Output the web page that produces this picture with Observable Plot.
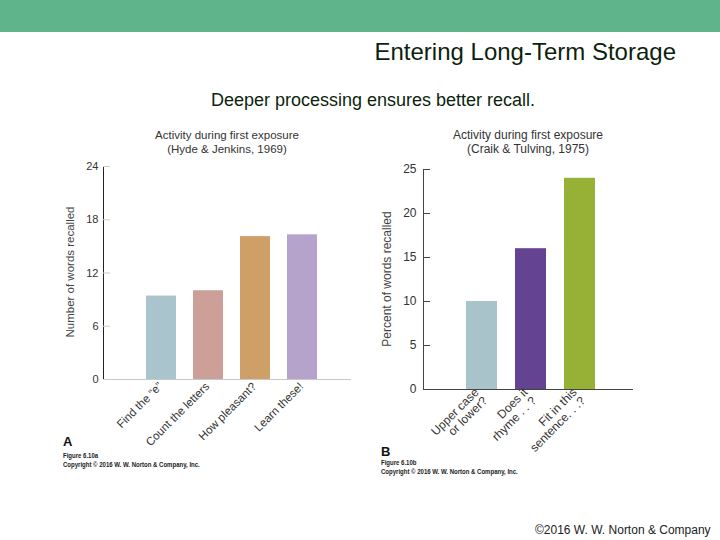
<!DOCTYPE html>
<html>
<head>
<meta charset="utf-8">
<script src="https://cdn.jsdelivr.net/npm/d3@7"></script>
<script src="https://cdn.jsdelivr.net/npm/@observablehq/plot@0.6"></script>
<style>
  html, body { margin: 0; padding: 0; background: #fff; }
  #page { position: relative; width: 720px; height: 540px; overflow: hidden; font-family: "Liberation Sans", Arial, sans-serif; color: #111; }
  .abs { position: absolute; white-space: nowrap; }
  .band { position: absolute; left: 0; top: 0; width: 720px; height: 32px; background: #5fb48b; }
  .title { right: 44px; top: 37px; font-size: 24px; line-height: 30px; color: #0d1f0d; }
  .subtitle { left: 373px; top: 100px; transform: translate(-50%, -50%); font-size: 18px; color: #0d1f0d; }
  .ptitle { line-height: 13.5px; text-align: center; color: #333; transform: translateX(-50%); }
  .ylab { color: #444; transform: translate(-50%, -50%) rotate(-90deg); }
  .letter { font-size: 13px; font-weight: bold; color: #111; }
  .fig { font-family: "Liberation Sans Narrow", "Liberation Sans", Arial, sans-serif; font-size: 7px; line-height: 8.5px; color: #222; font-weight: bold; transform: scaleX(0.86); transform-origin: left top; }
  .footer { left: 535px; top: 523px; font-size: 12px; color: #222; }
  .plotbox { position: absolute; }
</style>
</head>
<body>
<div id="page">
  <div class="band"></div>
  <div class="abs title">Entering Long-Term Storage</div>
  <div class="abs subtitle">Deeper processing ensures better recall.</div>

  <div class="abs ptitle" style="left:227px; top:129px; font-size:11.5px;">Activity during first exposure<br>(Hyde &amp; Jenkins, 1969)</div>
  <div class="abs ptitle" style="left:528px; top:129px; font-size:12px;">Activity during first exposure<br>(Craik &amp; Tulving, 1975)</div>

  <div class="abs ylab" style="left:70px; top:272px; font-size:11.5px;">Number of words recalled</div>
  <div class="abs ylab" style="left:387px; top:279px; font-size:12px;">Percent of words recalled</div>

  <div id="plotA" class="plotbox" style="left:40px; top:150px;"></div>
  <div id="plotB" class="plotbox" style="left:375px; top:150px;"></div>

  <div class="abs letter" style="left:63px; top:434px;">A</div>
  <div class="abs fig" style="left:63px; top:452px;">Figure 6.10a<br>Copyright © 2016 W. W. Norton &amp; Company, Inc.</div>
  <div class="abs letter" style="left:381px; top:444px;">B</div>
  <div class="abs fig" style="left:381px; top:459px;">Figure 6.10b<br>Copyright © 2016 W. W. Norton &amp; Company, Inc.</div>

  <div class="abs footer">©2016 W. W. Norton &amp; Company</div>
</div>
<script>
// Panel A: Hyde & Jenkins (1969)
const hydeCategories = ["Find the \u201ce\u201d", "Count the letters", "How pleasant?", "Learn these!"];
const hydeValues = [9.4, 10.0, 16.1, 16.3];
const hydeTicks = [0, 6, 12, 18, 24];
const hydeColors = ["#a9c4cc", "#cc9f99", "#cf9f68", "#b6a3cc"];

// Panel B: Craik & Tulving (1975)
const craikCategories = ["Upper case\nor lower?", "Does it\nrhyme . . ?", "Fit in this\nsentence. . .?"];
const craikValues = [10, 16, 24];
const craikTicks = [0, 5, 10, 15, 20, 25];
const craikColors = ["#a9c3cb", "#644392", "#97b137"];

const hydeData = hydeCategories.map((c, i) => ({cat: c, val: hydeValues[i]}));
const craikData = craikCategories.map((c, i) => ({cat: c, val: craikValues[i]}));

const font = "'Liberation Sans', Arial, sans-serif";

const plotA = Plot.plot({
  width: 320, height: 310,
  marginLeft: 63, marginTop: 16, marginBottom: 81, marginRight: 9,
  style: {fontFamily: font, fontSize: "11px", color: "#333", background: "transparent", overflow: "visible"},
  x: {domain: hydeCategories, paddingInner: 0.37, paddingOuter: 0.785, align: 0.55, label: null},
  y: {domain: [0, 24], label: null},
  color: {domain: hydeCategories, range: hydeColors},
  marks: [
    Plot.barY(hydeData, {x: "cat", y: "val", fill: "cat"}),
    Plot.ruleY([0], {stroke: "#c8c8c8"}),
    Plot.frame({anchor: "left", stroke: "#222"}),
    Plot.axisY({ticks: hydeTicks, tickSize: 7, dx: 7, tickPadding: 5, label: null, stroke: "#ccc", fontSize: 11}),
    Plot.axisX({tickSize: 0, tickPadding: 5, tickRotate: -45, label: null, dx: -1, fontSize: 11.5})
  ]
});
document.getElementById("plotA").appendChild(plotA);

const plotB = Plot.plot({
  width: 270, height: 330,
  marginLeft: 48, marginTop: 19, marginBottom: 91, marginRight: 12,
  style: {fontFamily: font, fontSize: "12px", color: "#333", background: "transparent", overflow: "visible"},
  x: {domain: craikCategories, paddingInner: 0.36, paddingOuter: 0.79, align: 0.534, label: null},
  y: {domain: [0, 25], label: null},
  color: {domain: craikCategories, range: craikColors},
  marks: [
    Plot.barY(craikData, {x: "cat", y: "val", fill: "cat"}),
    Plot.ruleY([0], {stroke: "#444"}),
    Plot.frame({anchor: "left", stroke: "#444"}),
    Plot.axisY({ticks: craikTicks, tickSize: 7, dx: 7, tickPadding: 7, label: null, stroke: "#444", fontSize: 12}),
    Plot.axisX({tickSize: 0, tickPadding: 5, tickRotate: -45, label: null, dx: -1, fontSize: 12})
  ]
});
document.getElementById("plotB").appendChild(plotB);
</script>
</body>
</html>
